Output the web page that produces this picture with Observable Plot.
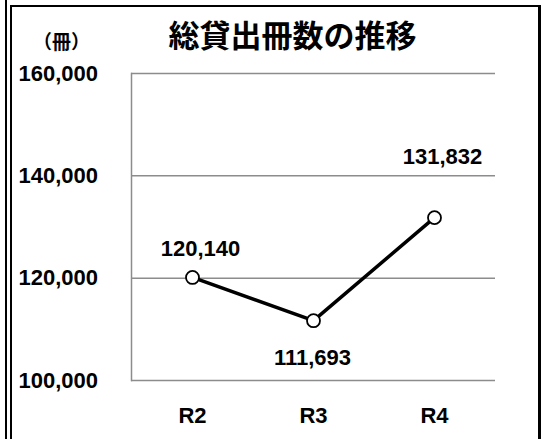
<!DOCTYPE html>
<html>
<head>
<meta charset="utf-8">
<script src="https://cdn.jsdelivr.net/npm/d3@7"></script>
<script src="https://cdn.jsdelivr.net/npm/@observablehq/plot@0.6"></script>
<style>
  html, body { margin: 0; padding: 0; background: #fff; }
  #wrap { position: relative; width: 543px; height: 439px; overflow: hidden; }
  .b { position: absolute; background: #000; }
  svg { position: absolute; left: 0; top: 0; }
</style>
</head>
<body>
<div id="wrap">
  <div class="b" style="left:5px;top:0;width:2px;height:439px"></div>
  <div class="b" style="left:10px;top:5px;width:2px;height:434px"></div>
  <div class="b" style="left:10px;top:5px;width:531px;height:2px"></div>
  <div class="b" style="left:538px;top:5px;width:3px;height:434px"></div>
</div>
<script>
const title = "総貸出冊数の推移";
const unitLabel = "（冊）";
const categories = ["R2", "R3", "R4"];
const values = [120140, 111693, 131832];
const yTicks = [100000, 120000, 140000, 160000];

const data = categories.map((c, i) => ({cat: c, value: values[i]}));
const numFont = "'Liberation Sans', Arial, sans-serif";
const fmt = d3.format(",");

const labelOpts = {
  x: "cat", y: "value", text: d => fmt(d.value),
  fontSize: 22, fontWeight: "bold", fontFamily: numFont, fill: "#000"
};

const chart = Plot.plot({
  width: 543,
  height: 439,
  marginLeft: 131,
  marginRight: 48,
  marginTop: 73,
  marginBottom: 59,
  style: {background: "transparent", overflow: "visible"},
  x: {type: "point", domain: categories, padding: 0.5},
  y: {domain: [100000, 160000]},
  marks: [
    Plot.gridY(yTicks, {stroke: "#8c8c8c", strokeOpacity: 1, strokeWidth: 1.5}),
    Plot.frame({anchor: "left", stroke: "#8c8c8c", strokeWidth: 1.5}),
    Plot.axisY({ticks: yTicks, tickSize: 0, tickPadding: 0, textAnchor: "start", dx: -113,
      tickFormat: fmt, fontSize: 22, fontWeight: "bold", fontFamily: numFont, fill: "#000", label: null}),
    Plot.axisX({tickSize: 0, tickPadding: 27, fontSize: 22, fontWeight: "bold", fontFamily: numFont, fill: "#000", label: null}),
    Plot.line(data, {x: "cat", y: "value", stroke: "#000", strokeWidth: 3.5}),
    Plot.dot(data, {x: "cat", y: "value", r: 6.5, fill: "#fff", stroke: "#000", strokeWidth: 1.8}),
    Plot.text(data.filter(d => d.cat === "R2"), {...labelOpts, dx: 8, dy: -28}),
    Plot.text(data.filter(d => d.cat === "R3"), {...labelOpts, dx: -1, dy: 37}),
    Plot.text(data.filter(d => d.cat === "R4"), {...labelOpts, dx: 8, dy: -61}),
    Plot.text([title], {frameAnchor: "top", dx: -21, dy: -36, lineAnchor: "middle",
      fontSize: 31, fontWeight: "bold", fontFamily: "'Noto Sans CJK JP', sans-serif", fill: "#000"}),
    Plot.text([unitLabel], {frameAnchor: "top-left", dx: -70, dy: -31, lineAnchor: "middle", textAnchor: "middle",
      fontSize: 19, fontWeight: "bold", fontFamily: "'Noto Sans CJK JP', sans-serif", fill: "#000"})
  ]
});
document.getElementById("wrap").appendChild(chart);
</script>
</body>
</html>
